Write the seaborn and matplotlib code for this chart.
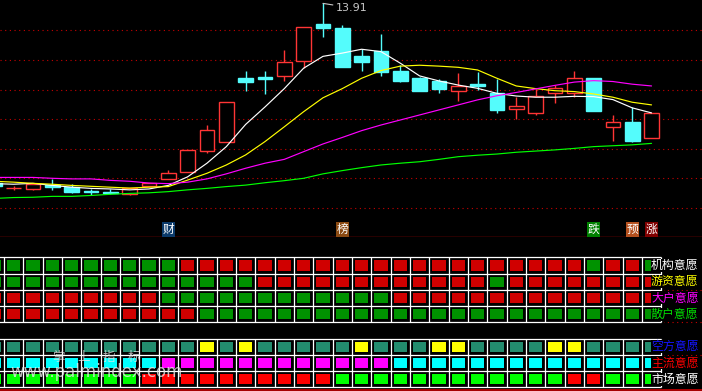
import matplotlib
matplotlib.use("Agg")
import matplotlib.pyplot as plt
import matplotlib.transforms as mtransforms
from matplotlib.colors import ListedColormap
import numpy as np
import pandas as pd
import seaborn as sns

# ---- data (day 0 is the half hidden bar on the left) ----
days = list(range(35))
opens = [7.85, 7.66, 7.65, 7.77, 7.72, 7.58, 7.55, 7.48, 7.74, 7.97,
         8.22, 8.93, 9.24, 11.38, 11.42, 11.47, 11.97, 13.21, 13.08, 12.13,
         12.30, 11.63, 11.38, 11.29, 10.94, 11.19, 10.88, 10.33, 10.20, 10.87,
         10.87, 11.38, 9.72, 9.90, 9.37]
highs = [7.89, 7.75, 7.82, 7.98, 7.81, 7.65, 7.63, 7.68, 7.84, 8.28,
         8.95, 9.80, 10.57, 11.63, 11.63, 12.33, 13.10, 13.91, 13.18, 12.36,
         12.88, 11.83, 11.41, 11.35, 11.56, 11.58, 11.35, 10.75, 11.01, 11.15,
         11.63, 11.38, 10.14, 10.40, 10.20]
lows = [7.71, 7.61, 7.61, 7.62, 7.51, 7.44, 7.46, 7.44, 7.74, 7.97,
        8.22, 8.87, 9.24, 10.96, 10.85, 11.29, 11.74, 12.78, 11.77, 11.64,
        11.47, 11.26, 10.96, 10.88, 10.62, 10.99, 10.22, 10.00, 10.14, 10.55,
        10.74, 10.27, 9.27, 9.23, 9.37]
closes = [7.74, 7.67, 7.82, 7.72, 7.55, 7.53, 7.51, 7.68, 7.84, 8.17,
          8.95, 9.62, 10.57, 11.26, 11.36, 11.92, 13.10, 13.08, 11.77, 11.93,
          11.60, 11.30, 10.96, 11.02, 11.11, 11.12, 10.32, 10.43, 10.78, 11.04,
          11.38, 10.27, 9.90, 9.27, 10.20]

ma5 = [7.82, 7.80, 7.83, 7.76, 7.70, 7.66, 7.64, 7.61, 7.64, 7.76,
       8.05, 8.51, 9.07, 9.82, 10.41, 11.03, 11.72, 12.12, 12.23, 12.36,
       12.28, 11.89, 11.46, 11.29, 11.15, 11.04, 10.87, 10.78, 10.74, 10.74,
       10.77, 10.76, 10.66, 10.38, 10.21]
ma10 = [7.90, 7.87, 7.83, 7.80, 7.76, 7.73, 7.70, 7.67, 7.70, 7.72,
        7.94, 8.17, 8.45, 8.79, 9.24, 9.74, 10.25, 10.72, 11.03, 11.38,
        11.64, 11.79, 11.82, 11.79, 11.75, 11.66, 11.38, 11.12, 11.03, 10.96,
        10.93, 10.85, 10.74, 10.57, 10.48]
ma20 = [8.03, 8.03, 8.03, 8.00, 7.98, 7.98, 7.93, 7.90, 7.84, 7.82,
        7.87, 7.98, 8.15, 8.34, 8.51, 8.64, 8.90, 9.16, 9.38, 9.61,
        9.80, 9.97, 10.14, 10.31, 10.48, 10.65, 10.79, 10.90, 11.02, 11.14,
        11.25, 11.30, 11.27, 11.18, 11.12]
ma60 = [7.32, 7.35, 7.36, 7.39, 7.39, 7.42, 7.46, 7.49, 7.51, 7.55,
        7.61, 7.66, 7.72, 7.77, 7.85, 7.92, 8.00, 8.15, 8.26, 8.36,
        8.45, 8.51, 8.56, 8.64, 8.73, 8.78, 8.82, 8.88, 8.92, 8.96,
        9.01, 9.07, 9.10, 9.13, 9.18]

price_grid = [7, 8, 9, 10, 11, 12, 13]

signal_days = [9, 18, 31, 33, 34]
signal_text = ['财', '榜', '跌', '预', '涨']

# willingness rows, one letter per day
# r/g = red/green (upper block), t teal, y yellow, c cyan, m magenta, l lime, R red
row_inst = 'g' * 10 + 'r' * 21 + 'g' + 'rr' + 'g'
row_hot = 'g' * 14 + 'r' * 12 + 'g' + 'r' * 8
row_big = 'r' * 9 + 'g' * 12 + 'r' * 14
row_retail = 'r' * 11 + 'g' * 24
row_bear = 't' * 11 + 'yty' + 't' * 5 + 'y' + 'ttt' + 'yy' + 'tttt' + 'yy' + 'tttt'
row_main = 'c' * 9 + 'm' * 12 + 'c' * 14
row_market = 'l' * 8 + 'R' * 10 + 'l' * 12 + 'RR' + 'lll'
row_labels = ['机构意愿', '游资意愿', '大户意愿', '散户意愿', '空方意愿', '主流意愿', '市场意愿']

# ---- styles ----
RED_C = '#ff3535'
CYAN_C = '#54fcfc'
GRID_RED = '#c80000'
codes = {'r': 0, 'g': 1, 't': 2, 'y': 3, 'c': 4, 'm': 5, 'l': 6, 'R': 7}
cell_colors = ['#d00000', '#009200', '#238c6e', '#ffff00', '#00ffff', '#ff00ff', '#00ff00', '#ff0000']
label_colors = ['#ffffff', '#ffff00', '#ff00ff', '#00e000', '#1414ff', '#ff0000', '#ffffff']
signal_bg = ['#0b3a6a', '#8b4a12', '#008000', '#b4501e', '#800000']

sns.set_style('dark', {'axes.facecolor': 'black', 'figure.facecolor': 'black'})
plt.rcParams['font.family'] = ['Noto Sans CJK SC', 'DejaVu Sans']

fig = plt.figure(figsize=(7.02, 3.91), dpi=100)
fig.patch.set_facecolor('black')
ax1 = fig.add_axes([0, 0.3931, 1, 0.6069])
ax2 = fig.add_axes([0, 0, 1, 0.3931])

# ---- candle panel ----
ax1.set_facecolor('black')
for p in price_grid:
    ax1.axhline(p, color=GRID_RED, lw=0.8, ls=(0, (1, 3.2)), zorder=0.5)

o = np.array(opens)
c = np.array(closes)
up = c >= o
cols = np.where(up, RED_C, CYAN_C)
body_lo = np.minimum(o, c)
body_hi = np.maximum(o, c)
ax1.vlines(days, lows, body_lo, colors=cols, lw=1.0, zorder=2)
ax1.vlines(days, body_hi, highs, colors=cols, lw=1.0, zorder=2)
ax1.bar(days, np.maximum(body_hi - body_lo, 0.01), bottom=body_lo, width=0.76,
        color=np.where(up, 'black', CYAN_C), edgecolor=cols, linewidth=1.0, zorder=3)

ma_df = pd.DataFrame({
    'day': days * 4,
    'value': ma5 + ma10 + ma20 + ma60,
    'line': ['MA5'] * 35 + ['MA10'] * 35 + ['MA20'] * 35 + ['MA60'] * 35,
})
sns.lineplot(data=ma_df, x='day', y='value', hue='line',
             palette={'MA5': '#ffffff', 'MA10': '#ffff00', 'MA20': '#ff00ff', 'MA60': '#00ff00'},
             legend=False, linewidth=0.85, ax=ax1, zorder=4)

imax = int(np.argmax(highs))
ax1.annotate(f'{highs[imax]:.2f}', xy=(days[imax], highs[imax]), xytext=(9.5, -3.3),
             textcoords='offset points', color='#c8c8c8', fontsize=8,
             ha='left', va='center', family='DejaVu Sans',
             arrowprops=dict(arrowstyle='-', color='#c8c8c8', lw=0.8, shrinkA=0, shrinkB=0))

trans1 = mtransforms.blended_transform_factory(ax1.transData, ax1.transAxes)
for d, t, bg in zip(signal_days, signal_text, signal_bg):
    ax1.text(d, 0.033, t, transform=trans1, ha='center', va='center', color='white',
             fontsize=8.5, zorder=6,
             bbox=dict(boxstyle='square,pad=0.06', fc=bg, ec='none'))

ax1.set_xlim(0.293, 36.61)
ax1.set_ylim(6.007, 14.024)
ax1.set_xticks([])
ax1.set_yticks([])
ax1.set_xlabel('')
ax1.set_ylabel('')
for s in ['top', 'left', 'right']:
    ax1.spines[s].set_visible(False)
ax1.spines['bottom'].set_color(GRID_RED)
ax1.spines['bottom'].set_linewidth(1.0)

# ---- willingness panel ----
rows = [row_inst, row_hot, row_big, row_retail, None, row_bear, row_main, row_market]
mat = np.array([[codes[ch] for ch in r] if r else [np.nan] * 35 for r in rows], dtype=float)
grid_df = pd.DataFrame(mat, columns=days)
ax2.set_facecolor('black')
sns.heatmap(grid_df, cmap=ListedColormap(cell_colors), vmin=-0.5, vmax=7.5, cbar=False,
            linewidths=3.2, linecolor='black', xticklabels=False, yticklabels=False, ax=ax2)
ax2.hlines([0, 1, 2, 3, 4], 0, 35, colors='white', lw=0.9, zorder=3)
ax2.hlines([5, 6, 7, 8], 0, 35, colors='white', lw=0.9, zorder=3)
ax2.vlines(range(36), 0, 4, colors='white', lw=0.9, zorder=3)
ax2.vlines(range(36), 5, 8, colors='white', lw=0.9, zorder=3)
for yy in [2, 4, 6]:
    ax2.axhline(yy, color=GRID_RED, lw=0.8, ls=(0, (1, 3.2)), zorder=0.5)
ax2.axhline(8.17, color=GRID_RED, lw=1.2, zorder=3)

trans2 = mtransforms.blended_transform_factory(ax2.transAxes, ax2.transData)
label_rows = [0.5, 1.5, 2.5, 3.5, 5.5, 6.5, 7.5]
for yy, lab, col in zip(label_rows, row_labels, label_colors):
    ax2.text(0.995, yy, lab, transform=trans2, ha='right', va='center', color=col,
             fontsize=8.6, zorder=5, bbox=dict(boxstyle='square,pad=0', fc='black', ec='none'))

ax2.set_xlim(0.793, 37.11)
ax2.set_ylim(8.228, -1.231)
ax2.set_xlabel('')
ax2.set_ylabel('')
for s in ax2.spines.values():
    s.set_visible(False)

# watermark
fig.text(0.138, 0.0857, '掌\u3000上\u3000指\u3000标', ha='center', va='center',
         color='#e6e6e6', alpha=0.8, fontsize=9)
fig.text(0.138, 0.0475, 'www.palmindex.com', ha='center', va='center',
         color='#e6e6e6', alpha=0.8, fontsize=12, family='DejaVu Sans')

fig.savefig('out.png', dpi=100, facecolor='black')
